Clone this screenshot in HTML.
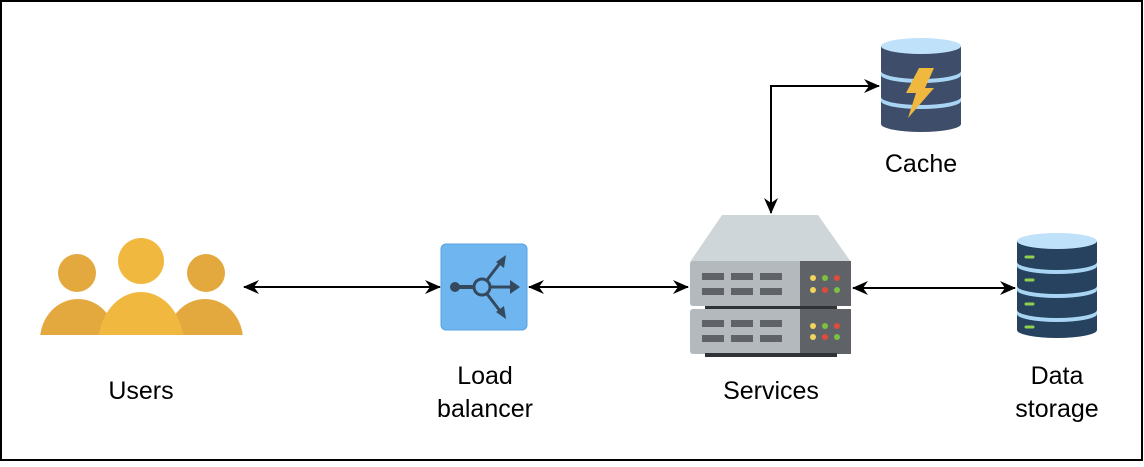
<!DOCTYPE html>
<html><head><style>
html,body{margin:0;padding:0;background:#fff}
.t{font-family:"Liberation Sans",sans-serif;font-size:25px;fill:#000}
</style></head><body>
<svg width="1144" height="462" viewBox="0 0 1144 462" xmlns="http://www.w3.org/2000/svg">
<defs>
<marker id="a" viewBox="0 0 16 14" refX="15" refY="7" markerWidth="16" markerHeight="14" orient="auto-start-reverse" markerUnits="userSpaceOnUse"><path d="M0,0 L16,7 L0,14 L5,7z" fill="#000"/></marker>
<clipPath id="uc"><rect x="30" y="230" width="220" height="105"/></clipPath>
</defs>
<rect x="1" y="1" width="1141" height="459" fill="#fff" stroke="#000" stroke-width="2"/>
<g clip-path="url(#uc)">
<ellipse cx="78" cy="340" rx="38" ry="41" fill="#e3a93f"/>
<ellipse cx="205" cy="340" rx="38" ry="41" fill="#e3a93f"/>
<ellipse cx="141" cy="345" rx="43" ry="53" fill="#f0b83f"/>
</g>
<circle cx="77" cy="273" r="19" fill="#e3a93f"/>
<circle cx="206" cy="273" r="19" fill="#e3a93f"/>
<circle cx="141" cy="261" r="23" fill="#f0b83f"/>
<line x1="244" y1="287" x2="440" y2="287" stroke="#000" stroke-width="2" marker-start="url(#a)" marker-end="url(#a)"/>
<line x1="529" y1="287" x2="688" y2="287" stroke="#000" stroke-width="2" marker-start="url(#a)" marker-end="url(#a)"/>
<line x1="853" y1="288" x2="1015" y2="288" stroke="#000" stroke-width="2" marker-start="url(#a)" marker-end="url(#a)"/>
<polyline points="771,213 771,86 879,86" fill="none" stroke="#000" stroke-width="2" marker-start="url(#a)" marker-end="url(#a)"/>
<rect x="441" y="244" width="86" height="86" rx="5" fill="#6fb6f0" stroke="#5aa3e0"/>
<line x1="455" y1="287" x2="475" y2="287" stroke="#34495e" stroke-width="4"/>
<circle cx="455" cy="287" r="5" fill="#34495e"/>
<circle cx="482" cy="287" r="8" fill="none" stroke="#34495e" stroke-width="3"/>
<line x1="490" y1="287" x2="512" y2="287" stroke="#34495e" stroke-width="3"/>
<path d="M510,280 L520,287 L510,294z" fill="#34495e"/>
<line x1="487" y1="280" x2="500" y2="263" stroke="#34495e" stroke-width="3"/>
<path d="M496,262 L506,255 L504,268z" fill="#34495e"/>
<line x1="487" y1="294" x2="500" y2="311" stroke="#34495e" stroke-width="3"/>
<path d="M496,312 L506,319 L504,306z" fill="#34495e"/>
<path d="M722,215 L818,215 L851,262 L690,262z" fill="#cfd6da"/>
<rect x="690" y="261" width="161" height="45" rx="3" fill="#b3b9bd"/>
<rect x="800" y="261" width="51" height="45" fill="#5f6368"/>
<rect x="705" y="306" width="132" height="5" fill="#2f3338"/>
<rect x="690" y="309" width="161" height="45" rx="3" fill="#b3b9bd"/>
<rect x="800" y="309" width="51" height="45" fill="#5f6368"/>
<rect x="705" y="353" width="132" height="4" fill="#2f3338"/>
<g fill="#5f6368">
<rect x="702" y="273" width="22" height="7"/><rect x="731" y="273" width="22" height="7"/><rect x="760" y="273" width="22" height="7"/>
<rect x="702" y="288" width="22" height="7"/><rect x="731" y="288" width="22" height="7"/><rect x="760" y="288" width="22" height="7"/>
<rect x="702" y="320" width="22" height="7"/><rect x="731" y="320" width="22" height="7"/><rect x="760" y="320" width="22" height="7"/>
<rect x="702" y="335" width="22" height="7"/><rect x="731" y="335" width="22" height="7"/><rect x="760" y="335" width="22" height="7"/>
</g>
<g>
<circle cx="813" cy="278" r="3" fill="#f4d35e"/><circle cx="825" cy="278" r="3" fill="#7cc242"/><circle cx="837" cy="278" r="3" fill="#e04b3c"/>
<circle cx="813" cy="290" r="3" fill="#f4d35e"/><circle cx="825" cy="290" r="3" fill="#e04b3c"/><circle cx="837" cy="290" r="3" fill="#7cc242"/>
<circle cx="813" cy="326" r="3" fill="#f4d35e"/><circle cx="825" cy="326" r="3" fill="#7cc242"/><circle cx="837" cy="326" r="3" fill="#e04b3c"/>
<circle cx="813" cy="337" r="3" fill="#f4d35e"/><circle cx="825" cy="337" r="3" fill="#e04b3c"/><circle cx="837" cy="337" r="3" fill="#7cc242"/>
</g>
<path d="M881,46 L881,124 A40,8 0 0 0 961,124 L961,46z" fill="#3e4d6a"/>
<ellipse cx="921" cy="46" rx="40" ry="8" fill="#bfe2fa"/>
<path d="M881,71 A40,8 0 0 0 961,71 L961,75 A40,8 0 0 1 881,75z" fill="#a9d5f5"/>
<path d="M881,97 A40,8 0 0 0 961,97 L961,101 A40,8 0 0 1 881,101z" fill="#a9d5f5"/>
<path d="M919,68 L934,68 L925,88 L934,88 L908,118 L916,93 L906,93z" fill="#f0b83f"/>
<path d="M1017,241 L1017,330 A40,8 0 0 0 1097,330 L1097,241z" fill="#27425e"/>
<ellipse cx="1057" cy="241" rx="40" ry="8" fill="#bfe2fa"/>
<path d="M1017,262 A40,8 0 0 0 1097,262 L1097,266 A40,8 0 0 1 1017,266z" fill="#a9d5f5"/>
<path d="M1017,286 A40,8 0 0 0 1097,286 L1097,290 A40,8 0 0 1 1017,290z" fill="#a9d5f5"/>
<path d="M1017,310 A40,8 0 0 0 1097,310 L1097,314 A40,8 0 0 1 1017,314z" fill="#a9d5f5"/>
<g stroke="#8fd14f" stroke-width="3" stroke-linecap="round">
<line x1="1026" y1="257" x2="1033" y2="257"/><line x1="1026" y1="280" x2="1033" y2="280"/>
<line x1="1026" y1="304" x2="1033" y2="304"/><line x1="1026" y1="327" x2="1033" y2="327"/>
</g>
<text class="t" x="141" y="399" text-anchor="middle">Users</text>
<text class="t" x="485" y="384" text-anchor="middle">Load</text>
<text class="t" x="485" y="417" text-anchor="middle">balancer</text>
<text class="t" x="771" y="399" text-anchor="middle">Services</text>
<text class="t" x="921" y="172" text-anchor="middle">Cache</text>
<text class="t" x="1057" y="384" text-anchor="middle">Data</text>
<text class="t" x="1057" y="417" text-anchor="middle">storage</text>
</svg>
</body></html>
